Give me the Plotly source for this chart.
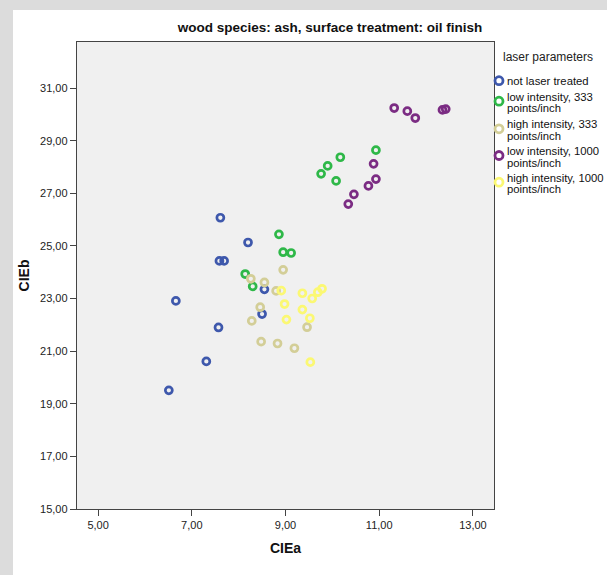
import plotly.graph_objects as go

# ---------------- data ----------------
series_names = [
    "not laser treated",
    "low intensity, 333 points/inch",
    "high intensity, 333 points/inch",
    "low intensity, 1000 points/inch",
    "high intensity, 1000 points/inch",
]
legend_lines = [
    ["not laser treated"],
    ["low intensity, 333", "points/inch"],
    ["high intensity, 333", "points/inch"],
    ["low intensity, 1000", "points/inch"],
    ["high intensity, 1000", "points/inch"],
]
colors = ["#3E58AC", "#2EB848", "#D3CE97", "#7B2C83", "#FBF873"]

not_treated_a = [7.61, 8.20, 7.59, 7.69, 6.66, 7.31, 6.51, 7.57, 8.55, 8.50]
not_treated_b = [26.07, 25.13, 24.43, 24.43, 22.91, 20.61, 19.51, 21.90, 23.35, 22.41]
low333_a = [8.86, 8.95, 9.12, 8.14, 8.30, 10.93, 10.17, 9.90, 9.76, 10.08]
low333_b = [25.44, 24.76, 24.73, 23.93, 23.46, 28.64, 28.37, 28.04, 27.74, 27.47]
high333_a = [8.26, 8.55, 8.95, 8.80, 8.46, 8.28, 9.46, 8.48, 8.83, 9.19]
high333_b = [23.75, 23.61, 24.09, 23.29, 22.67, 22.15, 21.91, 21.36, 21.29, 21.11]
low1000_a = [11.32, 11.60, 11.77, 12.35, 12.42, 10.88, 10.93, 10.77, 10.46, 10.34]
low1000_b = [30.24, 30.12, 29.86, 30.17, 30.20, 28.12, 27.54, 27.28, 26.96, 26.59]
high1000_a = [8.91, 9.36, 9.57, 9.69, 9.78, 8.98, 9.36, 9.52, 9.02, 9.53]
high1000_b = [23.30, 23.20, 23.00, 23.24, 23.37, 22.79, 22.58, 22.25, 22.20, 20.58]

x_tick_vals = [5, 7, 9, 11, 13]
x_tick_text = ["5,00", "7,00", "9,00", "11,00", "13,00"]
y_tick_vals = [15, 17, 19, 21, 23, 25, 27, 29, 31]
y_tick_text = ["15,00", "17,00", "19,00", "21,00", "23,00", "25,00", "27,00", "29,00", "31,00"]

series_a = [not_treated_a, low333_a, high333_a, low1000_a, high1000_a]
series_b = [not_treated_b, low333_b, high333_b, low1000_b, high1000_b]

# ---------------- layout geometry ----------------
W, H = 607, 575
ML, MR, MT, MB = 77, 113, 42, 66
PW = W - ML - MR
PH = H - MT - MB
FONT = "Liberation Sans, Arial, sans-serif"


def px_x(px):
    return (px - ML) / PW


def px_y(py):
    return 1 - (py - MT) / PH


fig = go.Figure()
for name, xa, yb, c in zip(series_names, series_a, series_b, colors):
    fig.add_trace(go.Scatter(
        x=xa, y=yb, mode="markers", name=name, showlegend=False,
        marker=dict(symbol="circle-open", size=7, color=c, line=dict(width=2.7)),
    ))

shapes = [
    # textured gray frame of the source image
    dict(type="rect", xref="paper", yref="paper", layer="below",
         x0=px_x(0), x1=px_x(13), y0=px_y(H), y1=px_y(0),
         fillcolor="#dcdcdc", line=dict(width=0)),
    dict(type="rect", xref="paper", yref="paper", layer="below",
         x0=px_x(0), x1=px_x(W), y0=px_y(10), y1=px_y(0),
         fillcolor="#dcdcdc", line=dict(width=0)),
]
annotations = [
    dict(text="laser parameters", xref="paper", yref="paper",
         x=px_x(501), y=px_y(57), xanchor="left", yanchor="middle",
         showarrow=False, font=dict(family=FONT, size=12, color="#222")),
]

# manual legend (marker sits right beside its label, as in the source)
first_line_y = [80.7, 96.7, 124.3, 151.0, 177.7]
for lines, c, y0 in zip(legend_lines, colors, first_line_y):
    my = y0 if len(lines) == 1 else y0 + 4.5
    shapes.append(dict(
        type="circle", xref="paper", yref="paper",
        xsizemode="pixel", ysizemode="pixel",
        xanchor=px_x(499), yanchor=px_y(my),
        x0=-4, x1=4, y0=-4, y1=4,
        line=dict(color=c, width=2.8), fillcolor="rgba(0,0,0,0)",
    ))
    for i, t in enumerate(lines):
        annotations.append(dict(
            text=t, xref="paper", yref="paper",
            x=px_x(505), y=px_y(y0 + i * 11.7),
            xanchor="left", yanchor="middle", showarrow=False,
            font=dict(family=FONT, size=11.3, color="#111"),
        ))

fig.update_layout(
    width=W, height=H,
    margin=dict(l=ML, r=MR, t=MT, b=MB),
    paper_bgcolor="white",
    plot_bgcolor="#F0F0F0",
    font=dict(family=FONT, size=11, color="#222"),
    title=dict(text="<b>wood species: ash, surface treatment: oil finish</b>",
               x=330 / W, xanchor="center", y=1 - 27 / H, yanchor="middle",
               font=dict(family=FONT, size=13.5, color="#111")),
    showlegend=False,
    shapes=shapes,
    annotations=annotations,
    xaxis=dict(
        range=[4.55, 13.45], tickvals=x_tick_vals, ticktext=x_tick_text,
        showgrid=False, zeroline=False, showline=True, mirror=True,
        linecolor="#444", linewidth=1.4, ticks="outside", ticklen=6,
        tickcolor="#444", tickwidth=1.2,
        tickfont=dict(family=FONT, size=11, color="#222"),
        title=dict(text="<b>CIEa</b>", standoff=12,
                   font=dict(family=FONT, size=14, color="#111")),
    ),
    yaxis=dict(
        range=[15, 32.75], tickvals=y_tick_vals, ticktext=y_tick_text,
        showgrid=False, zeroline=False, showline=True, mirror=True,
        linecolor="#444", linewidth=1.4, ticks="outside", ticklen=6,
        tickcolor="#444", tickwidth=1.2,
        tickfont=dict(family=FONT, size=11, color="#222"),
        title=dict(text="<b>CIEb</b>", standoff=7,
                   font=dict(family=FONT, size=14, color="#111")),
    ),
)

fig.write_html(
    "out.html",
    config={"displayModeBar": False},
    post_script="document.body.style.margin='0';document.body.style.overflow='hidden';",
)
